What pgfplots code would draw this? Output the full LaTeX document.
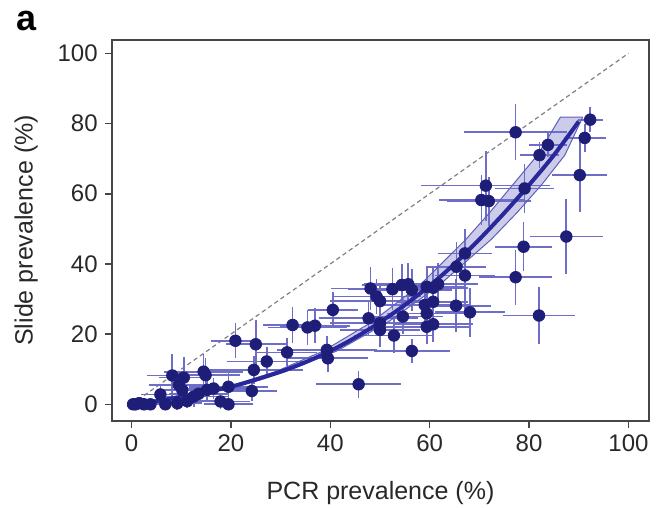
\documentclass[border=0pt]{standalone}
\usepackage{pgfplots}
\pgfplotsset{compat=1.18}
\usepackage{pgfplotstable}
\usepgfplotslibrary{fillbetween}
\usepackage{fontspec}
\setmainfont{Liberation Sans}
\definecolor{markcol}{RGB}{30,30,120}
\definecolor{barcol}{RGB}{110,110,200}
\definecolor{bandfill}{RGB}{195,195,230}
\definecolor{bandline}{RGB}{95,95,185}
\definecolor{curvecol}{RGB}{40,40,155}
\definecolor{framecol}{RGB}{70,70,70}
\definecolor{textcol}{RGB}{40,40,40}

\pgfplotstableread{
x y ex ey
0.3 0 1 0.5
0.8 0 1.5 0.5
1.5 0.3 2 1
2.5 0 2.5 0.8
3.8 0 3 1
5.8 2.8 4 2.5
6.8 0 3 1.5
8.2 8.2 5 6
10.5 7.6 5 6
9.5 5.5 6 4
10.2 4.1 5 3.5
9.2 0.3 5 2
11.2 0.9 6 2
12.5 2.2 7 3
13.5 3.0 6 2.5
14.5 9.3 8 5
14.9 8.3 7 5
16.5 4.5 7 3
17.9 0.8 6 2
19.5 0 5 1.5
19.5 5.0 8 4
15.2 4.1 10 3
20.9 18.1 5 5
25.0 17.1 6 7
24.2 3.8 5 3
24.6 9.8 10 4
27.2 12.2 8 4
31.3 14.8 6 4
32.4 22.6 6 5
35.4 21.9 8 5
36.9 22.4 7 5
40.5 26.9 5 5
39.3 15.5 10 4
39.5 13.1 8 4
45.7 5.7 8.5 3.8
48.1 33.0 8 6
49.3 30.7 9 5
50.0 29.4 10 5
47.7 24.5 10 5
50.0 23.1 10 5
50.0 21.2 8 5
52.5 32.8 9 6
54.6 25.0 8 5
52.8 19.6 8 5
54.4 34.0 8 6
55.7 34.2 9 6
56.4 32.6 8 6
56.4 15.2 7.7 3.5
59.0 28.3 9 5
59.4 25.9 8 5
59.4 22.1 9 5
60.7 22.8 8 5
60.7 29.2 7 5
59.4 33.5 8 6
60.7 33.2 7 6
61.7 34.2 8 6
65.3 28.1 7 7.5
68.1 26.2 7 7
67.1 36.7 6 9.5
65.4 39.2 6 7
67.1 43.0 5.5 7
71.3 62.3 13 10
70.4 58.2 8.5 7
71.9 57.9 8.5 7
77.3 77.5 10.4 8
79.1 61.5 6 7
82.1 71.0 4 3.8
83.8 73.9 3.8 3.5
92.3 81.1 2.5 3.5
91.2 75.9 4.2 4
90.2 65.3 5.5 10.5
87.5 47.8 7.4 10.7
78.9 44.9 5.7 7
77.3 36.2 7.4 7.8
82.0 25.3 7.2 8
}\pts

\begin{document}
\begin{tikzpicture}
\begin{axis}[
  at={(0,0)}, anchor=south west,
  scale only axis, width=268.8pt, height=190.35pt,
  xmin=-4.0, xmax=104.2, ymin=-4.67, ymax=103.8,
  xtick={0,20,...,100}, ytick={0,20,...,100},
  tick align=outside, tick pos=left,
  major tick length=3.5pt,
  axis line style={framecol, line width=0.9pt},
  every tick/.style={framecol, line width=0.8pt},
  /pgf/number format/assume math mode=true,
  tick label style={font=\fontsize{12}{14}\selectfont, text=textcol},
  label style={font=\fontsize{12.5}{14}\selectfont, text=textcol},
  xlabel={PCR prevalence (\%)},
  ylabel={Slide prevalence (\%)},
  xlabel shift=8pt,
  ylabel shift=3pt,
  clip=false,
]
\addplot[gray, line width=0.6pt, dash pattern=on 2.2pt off 1.6pt] coordinates {(0,0) (100,100)};
\addplot[draw=none, mark=none,
  error bars/.cd, x dir=both, x explicit, y dir=both, y explicit,
  error mark=none,
  error bar style={draw=barcol, line width=0.85pt}]
  table[x=x, y=y, x error=ex, y error=ey] {\pts};
\addplot[name path=U, bandline, line width=0.5pt] coordinates {
(0,0) (9.4,2.2) (19.3,5) (29,9.3) (38.6,15.2) (48.3,23.4) (57.9,33.8) (67.3,47) (72,54.5) (76.7,62.5) (81.7,71) (86.3,81.8) (90.8,81.8)};
\addplot[name path=L, bandline, line width=0.5pt] coordinates {
(0,0) (10.6,2.2) (20.7,5) (31,9.3) (41.3,15.2) (51.6,23.4) (61.8,33.8) (72.4,47) (77.5,54.5) (82.5,62.5) (87.2,71) (90.8,81.8)};
\addplot[bandfill, opacity=0.85] fill between[of=U and L];
\addplot[curvecol, line width=2pt, smooth] coordinates {
(0,0) (5,0.9) (10,2.2) (15,3.5) (20,5) (25,7) (30,9.3) (35,12) (40,15.2) (45,19) (50,23.4) (55,28.3) (60,33.8) (65,40) (70,47) (75,54.5) (80,62.5) (85,71) (90,80.6)};
\addplot[only marks, mark=*, mark size=2.9pt, mark options={fill=markcol, draw=markcol}]
  table[x=x, y=y] {\pts};
\node[font=\bfseries\fontsize{18}{18}\selectfont, text=black, xshift=-42.5pt, yshift=9.5pt] at (rel axis cs:0,1) {a};
\end{axis}
\pgfresetboundingbox
\path[use as bounding box] (-55.85pt,-43.65pt) rectangle (274.15pt,210.35pt);
\end{tikzpicture}
\end{document}
